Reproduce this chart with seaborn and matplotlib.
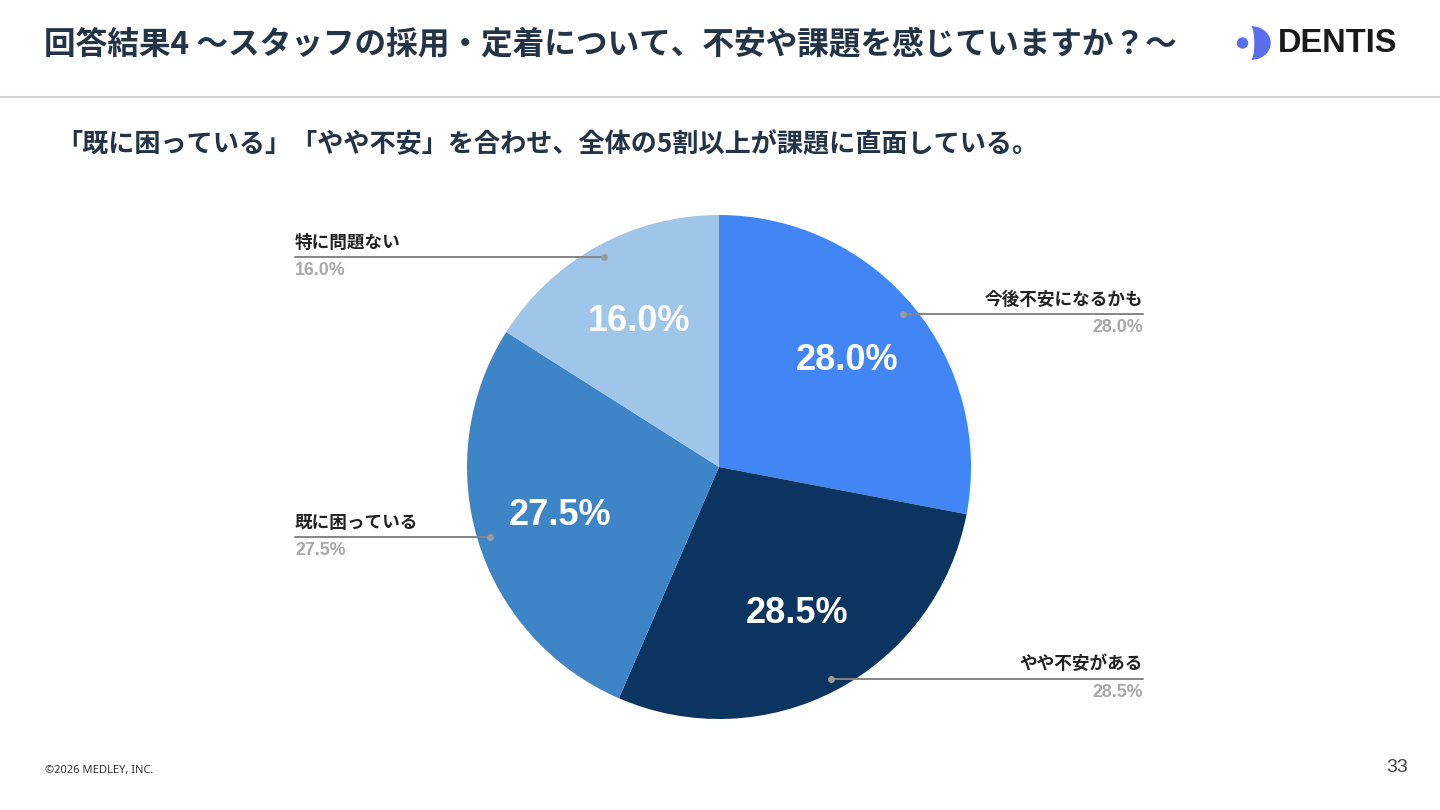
import numpy as np
import pandas as pd
import seaborn as sns
import matplotlib.pyplot as plt
from matplotlib.patches import Circle, Polygon

# Data (clockwise from 12 o'clock)
labels = ["今後不安になるかも", "やや不安がある", "既に困っている", "特に問題ない"]
shares = [28.0, 28.5, 27.5, 16.0]
colors = ["#4285F4", "#0B3560", "#3D85C6", "#9FC5E8"]

title = "回答結果4 〜スタッフの採用・定着について、不安や課題を感じていますか？〜"
subtitle = "「既に困っている」「やや不安」を合わせ、全体の5割以上が課題に直面している。"

df = pd.DataFrame({"label": labels, "share": shares, "color": colors})

sns.set_theme(style="white")
plt.rcParams['font.family'] = ['Noto Sans CJK JP', 'DejaVu Sans']

W, H = 1440, 810
fig = plt.figure(figsize=(14.4, 8.1), dpi=100)
fig.patch.set_facecolor("white")


def px(x, y):
    return x / W, 1 - y / H


# Header
fig.text(*px(44, 45), title, fontsize=22.8, fontweight="bold", color="#243447",
         ha="left", va="center")
fig.add_artist(plt.Line2D([0, 1], [1 - 97 / H] * 2, color="#d4d4d4", lw=1.5))
fig.text(*px(56, 145), subtitle, fontsize=18.8, fontweight="bold", color="#243447",
         ha="left", va="center")

# DENTIS logo
logo = fig.add_axes([0, 0, 1, 1], facecolor="none")
logo.set_xlim(0, W)
logo.set_ylim(H, 0)
logo.axis("off")
logo.add_patch(Circle((1242.5, 43), 5, color="#5A6FF0"))
t = np.linspace(-np.pi / 2, np.pi / 2, 60)
outer = np.column_stack([1252 + 18 * np.cos(t), 43 + 16 * np.sin(t)])
inner = np.column_stack([1252 + 3 * np.cos(t[::-1]), 43 + 16 * np.sin(t[::-1])])
logo.add_patch(Polygon(np.vstack([outer, inner]), closed=True, color="#5A6FF0"))
logo.text(1278, 44, "DENTIS", fontsize=23.5, fontweight="bold", color="#1a1a1a",
          family=["Liberation Sans", "DejaVu Sans"], ha="left", va="center")

# Footer
fig.text(*px(45, 771), "©2026 MEDLEY, INC.", fontsize=8, color="#333333",
         family=["Noto Sans", "DejaVu Sans"], ha="left", va="center")
fig.text(*px(1408, 767), "33", fontsize=14, color="#444444",
         family=["Liberation Sans", "DejaVu Sans"], ha="right", va="center")

# Pie
cx, cy, r = 719, 467, 252
ax = fig.add_axes([(cx - r) / W, (H - cy - r) / H, 2 * r / W, 2 * r / H])
wedges, _, autotexts = ax.pie(
    df["share"], colors=df["color"], startangle=90, counterclock=False,
    radius=1, autopct="%.1f%%", pctdistance=0.66,
    textprops=dict(color="white", fontsize=26, fontweight="bold",
                   family=["Liberation Sans", "DejaVu Sans"]),
    wedgeprops=dict(linewidth=0))
ax.set_xlim(-1, 1)
ax.set_ylim(-1, 1)
ax.set_aspect("equal")
ax.axis("off")

right_end = (1143 - cx) / r
left_end = (295 - cx) / r
for w, lab, val in zip(wedges, df["label"], df["share"]):
    ang = np.deg2rad((w.theta1 + w.theta2) / 2)
    dx, dy = 0.95 * np.cos(ang), 0.95 * np.sin(ang)
    end = right_end if dx > 0 else left_end
    ha = "right" if dx > 0 else "left"
    ax.plot([dx, end], [dy, dy], color="#858585", lw=1.4, clip_on=False)
    ax.plot(dx, dy, "o", color="#9a9a9a", ms=4, clip_on=False)
    ax.text(end, dy + 0.022, lab, fontsize=12.7, fontweight="bold", color="#222222",
            ha=ha, va="bottom", clip_on=False)
    ax.text(end, dy - 0.02, f"{val:.1f}%", fontsize=12.8, fontweight="bold",
            color="#a8a8a8", family=["Liberation Sans", "DejaVu Sans"],
            ha=ha, va="top", clip_on=False)

fig.savefig("out.png", dpi=100, facecolor="white")
